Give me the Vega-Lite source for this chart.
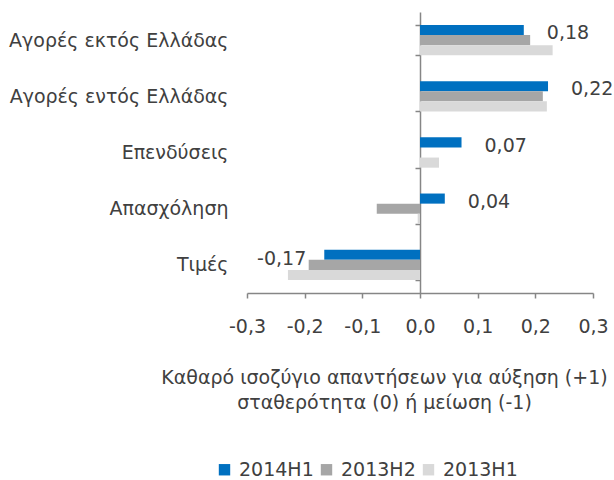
{
  "$schema": "https://vega.github.io/schema/vega-lite/v6.json",
  "width": 346,
  "height": 281,
  "autosize": "none",
  "padding": {"left": 247, "top": 12, "right": 21, "bottom": 187},
  "background": "white",
  "config": {
    "locale": {"number": {"decimal": ",", "thousands": ".", "grouping": [3], "currency": ["", " €"], "minus": "-"}},
    "view": {"stroke": null},
    "font": "DejaVu Sans"
  },
  "data": {
    "values": [
      {"category": "Αγορές εκτός Ελλάδας", "series": "2014H1", "value": 0.18},
      {"category": "Αγορές εκτός Ελλάδας", "series": "2013H2", "value": 0.191},
      {"category": "Αγορές εκτός Ελλάδας", "series": "2013H1", "value": 0.23},
      {"category": "Αγορές εντός Ελλάδας", "series": "2014H1", "value": 0.222},
      {"category": "Αγορές εντός Ελλάδας", "series": "2013H2", "value": 0.213},
      {"category": "Αγορές εντός Ελλάδας", "series": "2013H1", "value": 0.22},
      {"category": "Επενδύσεις", "series": "2014H1", "value": 0.072},
      {"category": "Επενδύσεις", "series": "2013H2", "value": 0},
      {"category": "Επενδύσεις", "series": "2013H1", "value": 0.033},
      {"category": "Απασχόληση", "series": "2014H1", "value": 0.043},
      {"category": "Απασχόληση", "series": "2013H2", "value": -0.075},
      {"category": "Απασχόληση", "series": "2013H1", "value": -0.004},
      {"category": "Τιμές", "series": "2014H1", "value": -0.166},
      {"category": "Τιμές", "series": "2013H2", "value": -0.193},
      {"category": "Τιμές", "series": "2013H1", "value": -0.229}
    ]
  },
  "encoding": {
    "y": {
      "field": "category",
      "type": "nominal",
      "sort": ["Αγορές εκτός Ελλάδας", "Αγορές εντός Ελλάδας", "Επενδύσεις", "Απασχόληση", "Τιμές"],
      "scale": {"paddingInner": 0.46, "paddingOuter": 0.23},
      "axis": {
        "title": null,
        "offset": -173,
        "tickBand": "extent",
        "tickSize": 5,
        "labelPadding": 187,
        "labelLimit": 0,
        "domainColor": "#868686",
        "domainWidth": 1.5,
        "tickColor": "#868686",
        "tickWidth": 1.5,
        "labelFontSize": 19,
        "labelColor": "#404040",
        "labelFont": "DejaVu Sans"
      }
    }
  },
  "layer": [
    {
      "mark": {"type": "bar"},
      "encoding": {
        "x": {
          "field": "value",
          "type": "quantitative",
          "scale": {"domain": [-0.3, 0.3], "nice": false, "zero": false},
          "axis": {
            "values": [-0.3, -0.2, -0.1, 0, 0.1, 0.2, 0.3],
            "format": ".1f",
            "grid": false,
            "tickSize": 5,
            "labelPadding": 19,
            "labelFlush": false,
            "labelOverlap": false,
            "domainColor": "#868686",
            "domainWidth": 1.5,
            "tickColor": "#868686",
            "tickWidth": 1.5,
            "labelFontSize": 19,
            "labelColor": "#404040",
            "labelFont": "DejaVu Sans",
            "title": ["Καθαρό ισοζύγιο απαντήσεων για αύξηση (+1)", "σταθερότητα (0) ή μείωση (-1)"],
            "titleX": 137,
            "titleY": 75,
            "titleAlign": "center",
            "titleBaseline": "top",
            "titleFontWeight": "normal",
            "titleFontSize": 19,
            "titleColor": "#404040",
            "titleFont": "DejaVu Sans",
            "titleLineHeight": 25
          }
        },
        "yOffset": {
          "field": "series",
          "type": "nominal",
          "sort": ["2014H1", "2013H2", "2013H1"],
          "scale": {"paddingInner": 0, "paddingOuter": 0}
        },
        "color": {
          "field": "series",
          "type": "nominal",
          "sort": ["2014H1", "2013H2", "2013H1"],
          "scale": {"domain": ["2014H1", "2013H2", "2013H1"], "range": ["#0070C0", "#A6A6A6", "#D9D9D9"]},
          "legend": {
            "title": null,
            "orient": "none",
            "direction": "horizontal",
            "legendX": -32,
            "legendY": 448,
            "symbolType": "square",
            "symbolSize": 130,
            "symbolStrokeWidth": 0,
            "labelFontSize": 19,
            "labelColor": "#404040",
            "labelFont": "DejaVu Sans",
            "columnPadding": 3,
            "labelOffset": 5
          }
        }
      }
    },
    {
      "transform": [{"filter": "datum.series === '2014H1' && datum.value > 0"}],
      "mark": {"type": "text", "align": "left", "baseline": "middle", "dx": 23, "dy": -7, "fontSize": 19, "color": "#404040", "font": "DejaVu Sans"},
      "encoding": {
        "x": {"field": "value", "type": "quantitative"},
        "text": {"field": "value", "type": "quantitative", "format": ".2f"}
      }
    },
    {
      "transform": [{"filter": "datum.series === '2014H1' && datum.value < 0"}],
      "mark": {"type": "text", "align": "right", "baseline": "middle", "dx": -18, "dy": -6, "fontSize": 19, "color": "#404040", "font": "DejaVu Sans"},
      "encoding": {
        "x": {"field": "value", "type": "quantitative"},
        "text": {"field": "value", "type": "quantitative", "format": ".2f"}
      }
    }
  ]
}
